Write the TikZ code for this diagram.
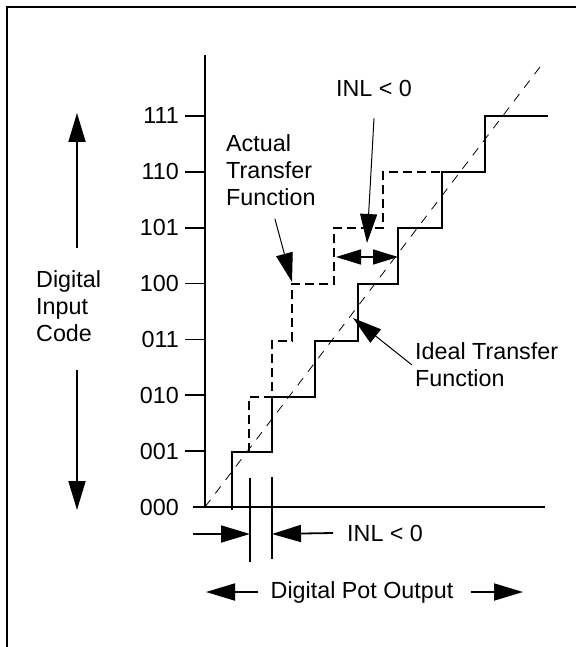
\documentclass[tikz,border=0pt]{standalone}
\usepackage{fontspec}
\setmainfont{Liberation Sans}
\usetikzlibrary{arrows.meta,positioning}

\tikzset{
  lbl/.style={font=\fontsize{23.3}{27}\selectfont, inner sep=0pt},
  codelbl/.style={lbl, anchor=east},
  bigarrow/.style={-{Triangle[length=29pt,width=17pt]}, line width=1.8pt},
  callout/.style={-{Triangle[length=29pt,width=17pt]}, line width=1pt},
  inlarrow/.style={{Triangle[length=25pt,width=15pt]}-{Triangle[length=25pt,width=15pt]}, line width=1.6pt},
  ideal/.style={line width=1.8pt},
  actual/.style={line width=1.8pt, dash pattern=on 9pt off 5pt},
  idealline/.style={line width=0.8pt, dash pattern=on 9pt off 8pt},
}

\begin{document}
\begin{tikzpicture}[x=1pt,y=-1pt]
\useasboundingbox (0,0) rectangle (576,647);

% frame
\draw[line width=2.4pt] (7,647) -- (7,7) -- (576,7);

% axes
\coordinate (O) at (205,507);
\coordinate (ytopaxis) at (205,55);
\draw[line width=1.8pt] (ytopaxis) -- (O);
\draw[line width=1.8pt] (193,507) -- (545,507);

% input codes
\foreach \code [count=\i from 0] in {000,001,010,011,100,101,110,111} {
  \node[codelbl] (c\code) at (179,507-55.86*\i) {\code};
}
\foreach \i in {1,...,7}
  \draw[line width=1.8pt] (185,507-55.86*\i) -- (205,507-55.86*\i);

% ideal straight line and staircase
\draw[idealline] (O) -- (543,63);
\draw[ideal] (232,510) |- (272,452) |- (315,397) |- (358,341) |- (398,284)
  |- (442,228) |- (485,172) |- (548,116);

% actual staircase
\draw[actual] (249,452) |- (272,397) |- (292,341) |- (334,284) |- (383,228) |- (442,172);

% y axis title
\node[lbl, anchor=west, align=left] (yname) at (36,306) {Digital\\Input\\Code};
\coordinate (yup) at (77,113);
\coordinate (yuptail) at (77,248);
\coordinate (ydown) at (77,510);
\coordinate (ydowntail) at (77,370);
\draw[bigarrow] (yuptail) -- (yup);
\draw[bigarrow] (ydowntail) -- (ydown);

% x axis title
\node[lbl] (xname) at (362,592) {Digital Pot Output};
\coordinate (xmin) at (206,592);
\coordinate (xmax) at (523,592);
\draw[bigarrow] ([xshift=-12pt]xname.west) -- (xmin);
\draw[bigarrow] ([xshift=17pt]xname.east) -- (xmax);

% INL at the code transition
\draw[line width=1.8pt] (250,478) -- (250,562) (272,477) -- (272,559);
\coordinate (dimL) at (250,534);
\coordinate (dimR) at (272,534);
\node[lbl, anchor=west] (inlB) at (347,533) {INL < 0};
\draw[bigarrow] (193,534) -- (dimL);
\draw[bigarrow] ([xshift=-14pt]inlB.west) -- (dimR);

% INL between actual and ideal step
\coordinate (dblL) at (336,257);
\coordinate (dblR) at (398,257);
\draw[inlarrow] (dblL) -- (dblR);
\node[lbl] (inlT) at (374,88) {INL < 0};
\coordinate (inlTip) at (367,243);
\draw[callout] ([yshift=-22pt]inlT.south) -- (inlTip);

% labels of the two functions
\node[lbl, anchor=west, align=left] (act) at (226,170) {Actual\\Transfer\\Function};
\coordinate (actTip) at (292,282);
\draw[callout] ([xshift=4pt,yshift=-13pt]act.south) -- (actTip);

\node[lbl, anchor=west, align=left] (idl) at (415,365) {Ideal Transfer\\Function};
\coordinate (idlTip) at (353,318);
\draw[callout] ([xshift=-3pt]idl.west) -- (idlTip);
\end{tikzpicture}
\end{document}
